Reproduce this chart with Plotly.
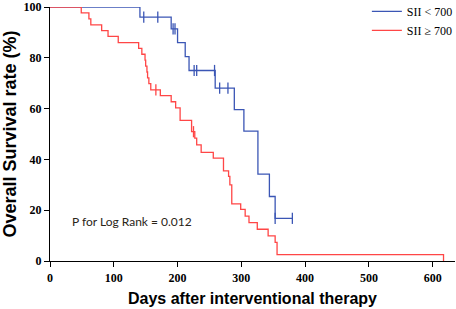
import plotly.graph_objects as go

# ---- data ----
blue_name = "SII < 700"
blue_days = [0, 141, 190, 200, 212, 218, 259, 289, 304, 326, 344, 353, 380]
blue_surv = [100, 96.0, 91.4, 86.0, 80.5, 75.0, 68.1, 59.6, 51.1, 34.2, 25.4, 16.8, 16.8]
blue_censor_days = [147, 169, 193, 196, 226, 230, 258, 266, 279, 353, 380]

red_name = "SII \u2265 700"
red_days = [0, 49, 61, 64, 81, 91, 107, 139, 144, 149, 150, 152, 153, 155, 158, 173,
            190, 197, 204, 222, 227, 230, 237, 256, 272, 280, 282, 285, 299, 306, 312,
            325, 342, 353, 356, 617]
red_surv = [100, 97.7, 95.3, 93.0, 90.7, 88.4, 86.0, 83.7, 81.4, 79.1, 76.7, 74.4, 72.1,
            69.8, 67.4, 65.1, 62.7, 60.3, 55.4, 50.9, 48.4, 45.7, 42.8, 40.5, 35.5, 33.3,
            30.0, 22.5, 20.3, 17.7, 15.1, 12.5, 9.9, 7.3, 2.5, 0]
red_censor_days = [166, 225]

x_ticks = [0, 100, 200, 300, 400, 500, 600]
y_ticks = [0, 20, 40, 60, 80, 100]
p_text = "P for Log Rank = 0.012"

BLUE = "#3b56b5"
RED = "#ff4646"


def surv_at(days, surv, t):
    val = surv[0]
    for d, s in zip(days, surv):
        if d <= t:
            val = s
    return val


fig = go.Figure()
for name, days, surv, cens, col in [
    (blue_name, blue_days, blue_surv, blue_censor_days, BLUE),
    (red_name, red_days, red_surv, red_censor_days, RED),
]:
    fig.add_trace(go.Scatter(x=days, y=surv, mode="lines", name=name,
                             line=dict(color=col, width=1.3, shape="hv"),
                             cliponaxis=False))
    fig.add_trace(go.Scatter(x=cens, y=[surv_at(days, surv, t) for t in cens],
                             mode="markers", showlegend=False,
                             marker=dict(symbol="line-ns", size=8,
                                         line=dict(color=col, width=1.3)),
                             cliponaxis=False))

fig.add_annotation(x=32, y=15.6, xref="x", yref="y", text=p_text, showarrow=False,
                   xanchor="left", yanchor="middle",
                   font=dict(family="Lato", size=12, color="#2a2418"))

axis_common = dict(showgrid=False, zeroline=False, showline=True, linecolor="black",
                   linewidth=1.3, ticks="outside", ticklen=5, tickwidth=1.3,
                   tickcolor="black", ticklabeloverflow="allow", automargin=False,
                   tickfont=dict(family="Liberation Serif", size=12, color="black",
                                 weight="bold"))

fig.update_xaxes(range=[0, 635], tickvals=x_ticks, ticktext=[str(v) for v in x_ticks],
                 title=dict(text="Days after interventional therapy", standoff=9,
                            font=dict(family="Liberation Sans", size=16, color="black",
                                      weight="bold")),
                 **axis_common)
fig.update_yaxes(range=[0, 100], tickvals=y_ticks, ticktext=[str(v) for v in y_ticks],
                 title=dict(text="Overall Survival rate (%)", standoff=4,
                            font=dict(family="Liberation Sans", size=18, color="black",
                                      weight="bold")),
                 **axis_common)

fig.update_layout(
    width=456, height=309,
    margin=dict(l=50, r=1, t=7, b=48, autoexpand=False),
    paper_bgcolor="white", plot_bgcolor="white",
    showlegend=True,
    legend=dict(x=0.7824, xanchor="left", y=1.04, yanchor="top",
                bgcolor="rgba(0,0,0,0)", itemwidth=30, tracegroupgap=0,
                font=dict(family="Liberation Serif", size=12, color="black")),
)

fig.write_html("out.html", config={"displayModeBar": False},
               post_script="document.body.style.margin='0';document.body.style.padding='0';")
